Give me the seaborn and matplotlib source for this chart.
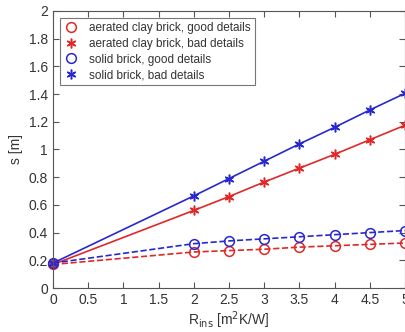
import matplotlib
matplotlib.use("Agg")
import matplotlib.pyplot as plt
import seaborn as sns
import pandas as pd

r_ins = [0, 2, 2.5, 3, 3.5, 4, 4.5, 5]
clay_good = [0.17, 0.26, 0.27, 0.28, 0.295, 0.305, 0.315, 0.325]
clay_bad = [0.17, 0.56, 0.66, 0.765, 0.865, 0.965, 1.07, 1.175]
solid_good = [0.18, 0.32, 0.34, 0.355, 0.37, 0.385, 0.40, 0.415]
solid_bad = [0.18, 0.665, 0.79, 0.915, 1.04, 1.16, 1.285, 1.405]
labels = ["aerated clay brick, good details", "aerated clay brick, bad details",
          "solid brick, good details", "solid brick, bad details"]
xticks = [0, 0.5, 1, 1.5, 2, 2.5, 3, 3.5, 4, 4.5, 5]
yticks = [0, 0.2, 0.4, 0.6, 0.8, 1, 1.2, 1.4, 1.6, 1.8, 2]

sns.set_style("ticks")
plt.rcParams['font.family'] = ['Liberation Sans', 'DejaVu Sans']

RED = "#e02828"
BLUE = "#2828d0"
AX = "#555555"

fig = plt.figure(figsize=(4.06, 3.32), dpi=100)
ax = fig.add_axes([0.1305, 0.1325, 0.867, 0.8345])

series = [
    (clay_good, RED, "--", "o", "none"),
    (clay_bad, RED, "-", (6, 2, 0), RED),
    (solid_good, BLUE, "--", "o", "none"),
    (solid_bad, BLUE, "-", (6, 2, 0), BLUE),
]
handles = []
for (vals, col, ls, mk, fc), lab in zip(series, labels):
    df = pd.DataFrame({"x": r_ins, "y": vals})
    sns.lineplot(data=df, x="x", y="y", ax=ax, color=col, linestyle=ls, linewidth=1.2,
                 marker=mk, markersize=7, markerfacecolor=fc, markeredgecolor=col,
                 markeredgewidth=1.1, clip_on=False)
    h, = ax.plot([], [], linestyle="none", marker=mk, markersize=7, markerfacecolor=fc,
                 markeredgecolor=col, markeredgewidth=1.1, label=lab)
    handles.append(h)

ax.set_xlim(0, 5)
ax.set_ylim(0, 2)
ax.set_xticks(xticks)
ax.set_yticks(yticks)
ax.set_xticklabels([f"{t:g}" for t in xticks])
ax.set_yticklabels([f"{t:g}" for t in yticks])
ax.tick_params(direction="in", top=True, right=True, length=4, width=0.8,
               colors=AX, labelcolor="#333333", labelsize=10)
for s in ax.spines.values():
    s.set_visible(True)
    s.set_color(AX)
    s.set_linewidth(0.8)
ax.set_xlabel(r"R$_{\mathrm{ins}}$ [m$^2$K/W]", fontsize=10, color="#333333", labelpad=2)
ax.set_ylabel("s [m]", fontsize=10, color="#333333", labelpad=4)

leg = ax.legend(handles=handles, loc="upper left", bbox_to_anchor=(0.02, 0.975),
                frameon=True, fancybox=False, fontsize=8.5, handlelength=1.2,
                handletextpad=0.9, borderpad=0.35, labelspacing=0.32, borderaxespad=0)
leg.get_frame().set_edgecolor(AX)
leg.get_frame().set_linewidth(0.8)
for t in leg.get_texts():
    t.set_color("#333333")

fig.savefig("out.png", dpi=100)
